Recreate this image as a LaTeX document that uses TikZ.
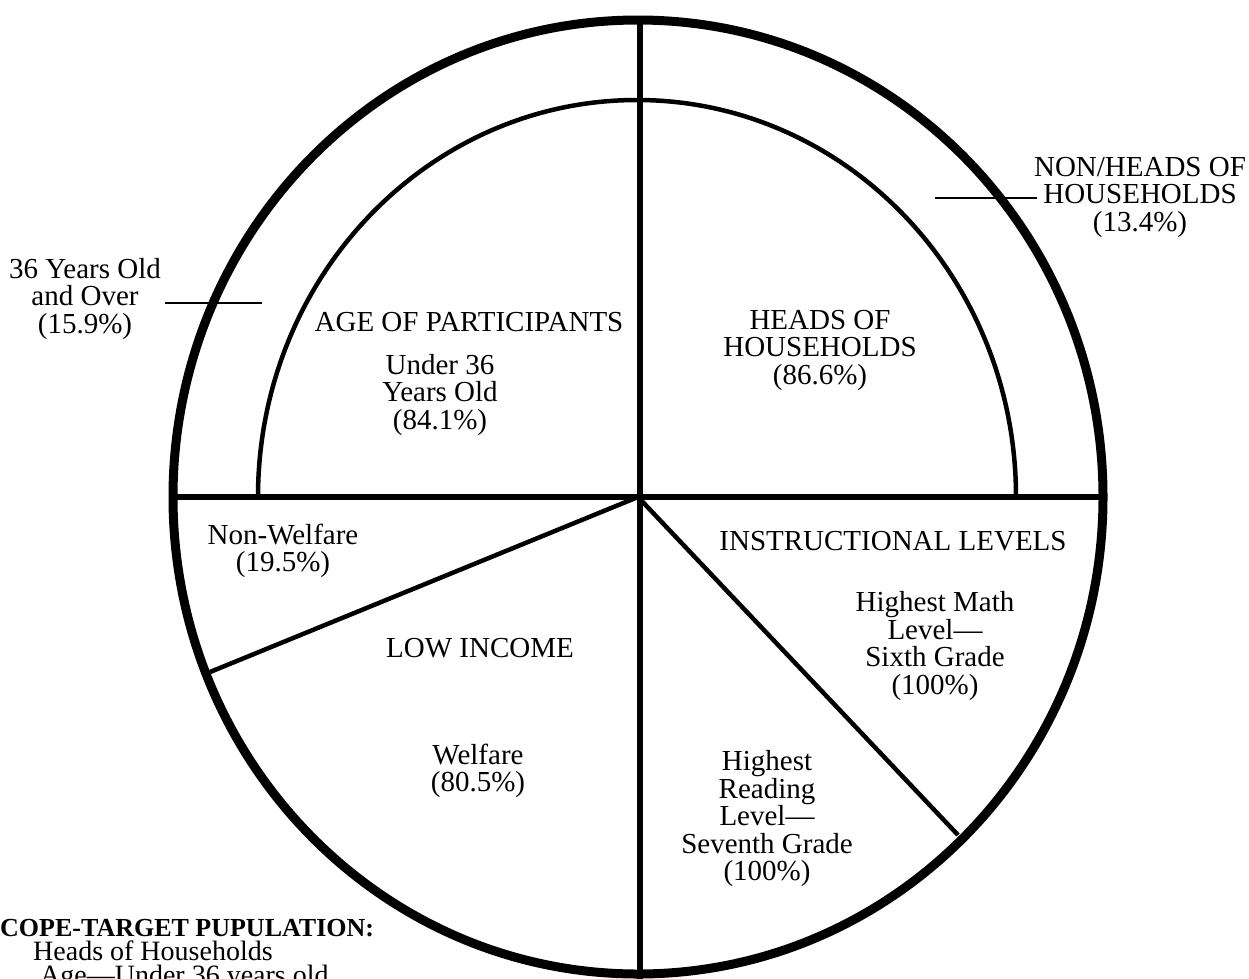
\documentclass[tikz,border=0pt]{standalone}
\usepackage{fontspec}
\setmainfont{Liberation Serif}
\begin{document}
\begin{tikzpicture}[x=1pt,y=-1pt,
  lab/.style={align=center,inner sep=0pt,font=\fontsize{29}{27.5}\selectfont},
  note/.style={align=left,inner sep=0pt,font=\fontsize{28}{24}\selectfont},
  outer/.style={line width=9pt},
  divider/.style={line width=6.5pt},
  inner/.style={line width=4.5pt},
  tick/.style={line width=2.2pt}]
\useasboundingbox (0,0) rectangle (1249,978);
\clip (0,0) rectangle (1249,978);
\coordinate (c) at (638,497);
\coordinate (top) at (640,20);
\coordinate (bot) at (640,990);
\coordinate (left) at (172,497);
\coordinate (right) at (1102,497);
\coordinate (ll) at (210,672);
\coordinate (lr) at (958,835);
\coordinate (il) at (258,497);
% outer circle
\draw[outer] (c) ellipse [x radius=465pt, y radius=477pt];
% dividers
\draw[divider] (top) -- (bot);
\draw[divider] (left) -- (right);
\draw[inner] (c) -- (ll);
\draw[inner] (c) -- (lr);
% inner arc
\draw[inner] (il) arc[start angle=180, end angle=0, x radius=379pt, y radius=397pt];
% label ticks
\coordinate (t1a) at (165,303);
\coordinate (t1b) at (262,303);
\draw[tick] (t1a) -- (t1b);
\coordinate (t2a) at (935,198);
\coordinate (t2b) at (1037,198);
\draw[tick] (t2a) -- (t2b);
% labels
\node[lab] (over36) at (85,299) {36 Years Old\\and Over\\(15.9\%)};
\node[lab] (nonheads) at (1140,197) {NON/HEADS OF\\HOUSEHOLDS\\(13.4\%)};
\node[lab] (age) at (469,322) {AGE OF PARTICIPANTS};
\node[lab] (under36) at (440,395) {Under 36\\Years Old\\(84.1\%)};
\node[lab] (heads) at (820,350) {HEADS OF\\HOUSEHOLDS\\(86.6\%)};
\node[lab] (nonwel) at (283,551) {Non-Welfare\\(19.5\%)};
\node[lab] (low) at (480,648) {LOW INCOME};
\node[lab] (wel) at (478,771) {Welfare\\(80.5\%)};
\node[lab] (instr) at (893,541) {INSTRUCTIONAL LEVELS};
\node[lab] (math) at (935,646) {Highest Math\\Level---\\Sixth Grade\\(100\%)};
\node[lab] (read) at (767,819) {Highest\\Reading\\Level---\\Seventh Grade\\(100\%)};
% bottom-left note
\node[note,anchor=north west] (cope) at (0,919) {{\fontsize{26}{24}\selectfont\bfseries COPE-TARGET PUPULATION:}\\
  \hspace*{33pt}Heads of Households\\
  \hspace*{40pt}Age---Under 36 years old};
\end{tikzpicture}
\end{document}
